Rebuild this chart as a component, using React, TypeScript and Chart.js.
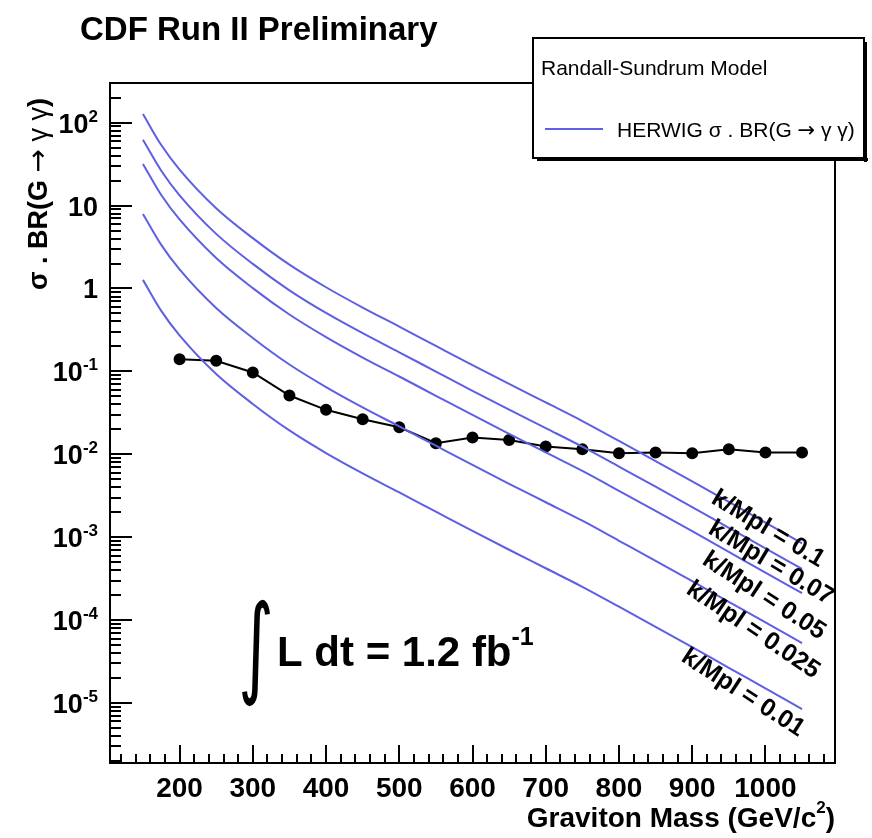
import React, { useEffect, useRef } from "react";
import { Chart, registerables } from "chart.js";

Chart.register(...registerables);

// ---------- data ----------
const masses = [150, 175, 200, 250, 300, 350, 400, 450, 500, 550, 600, 650, 700, 750, 800, 850, 900, 950, 1000, 1050];

const sigmaK010 = [127, 53.7, 27.2, 9.3, 4.05, 1.94, 1.035, 0.589, 0.347, 0.203, 0.119, 0.0706, 0.0422, 0.0252, 0.0145, 0.0083, 0.00472, 0.00266, 0.0015, 0.000845];
const sigmaK007 = [62.2, 26.3, 13.3, 4.56, 1.98, 0.951, 0.507, 0.289, 0.17, 0.0995, 0.0583, 0.0346, 0.0207, 0.01235, 0.0071, 0.00407, 0.00231, 0.0013, 0.000735, 0.000414];
const sigmaK005 = [31.8, 13.4, 6.8, 2.33, 1.01, 0.485, 0.259, 0.147, 0.0868, 0.0508, 0.0298, 0.01765, 0.01055, 0.0063, 0.00363, 0.00208, 0.00118, 0.000665, 0.000375, 0.000211];
const sigmaK0025 = [7.94, 3.36, 1.7, 0.581, 0.253, 0.121, 0.0647, 0.0368, 0.0217, 0.0127, 0.00744, 0.00441, 0.00264, 0.00158, 0.000906, 0.000519, 0.000295, 0.000166, 0.000094, 0.0000528];
const sigmaK001 = [1.27, 0.537, 0.272, 0.093, 0.0405, 0.0194, 0.01035, 0.00589, 0.00347, 0.00203, 0.00119, 0.000706, 0.000422, 0.000252, 0.000145, 0.000083, 0.0000472, 0.0000266, 0.000015, 0.00000845];

const limitMasses = [200, 250, 300, 350, 400, 450, 500, 550, 600, 650, 700, 750, 800, 850, 900, 950, 1000, 1050];
const limitValues = [0.14, 0.134, 0.0969, 0.0512, 0.0344, 0.0265, 0.0212, 0.0136, 0.0159, 0.0149, 0.0124, 0.0115, 0.0103, 0.0105, 0.0103, 0.0115, 0.0105, 0.0105];

const curveLabels = ["k/Mpl = 0.1", "k/Mpl = 0.07", "k/Mpl = 0.05", "k/Mpl = 0.025", "k/Mpl = 0.01"];

const xTickLabels = [200, 300, 400, 500, 600, 700, 800, 900, 1000];
const yTickValues = [100, 10, 1, 0.1, 0.01, 0.001, 0.0001, 0.00001];
const yTickBases = ["10", "10", "1", "10", "10", "10", "10", "10"];
const yTickExps = ["2", "", "", "-1", "-2", "-3", "-4", "-5"];

const titleText = "CDF Run II Preliminary";
const xTitleMain = "Graviton Mass (GeV/c";
const xTitleSup = "2";
const yTitleHead = "σ . BR(G ";
const arrowText = "→";
const gammaText = " γ γ";
const legendHeader = "Randall-Sundrum Model";
const legendEntryHead = "HERWIG σ . BR(G ";
const lumiMain = "L dt = 1.2 fb";
const lumiSup = "-1";

// ---------- styles ----------
const BLUE = "rgb(95,95,228)";
const FONT = "'Liberation Sans', Arial, Helvetica, sans-serif";
const SYM = "'DejaVu Sans', sans-serif";

// label placement (pixel layout, angle in degrees)
const curveLabelLayout = [
  { cx: 768, cy: 529, angle: 31 },
  { cx: 771, cy: 563, angle: 31 },
  { cx: 764, cy: 596, angle: 33 },
  { cx: 753, cy: 630, angle: 34 },
  { cx: 743, cy: 693, angle: 33 },
];

type Part = { text: string; font: string; dy: number };

function drawRich(ctx: CanvasRenderingContext2D, parts: Part[], x: number, y: number, align: "left" | "right" | "center") {
  const widths = parts.map((p) => {
    ctx.font = p.font;
    return ctx.measureText(p.text).width;
  });
  const total = widths.reduce((a, b) => a + b, 0);
  let sx = align === "right" ? x - total : align === "center" ? x - total / 2 : x;
  ctx.textAlign = "left";
  ctx.textBaseline = "alphabetic";
  parts.forEach((p, i) => {
    ctx.font = p.font;
    ctx.fillText(p.text, sx, y + p.dy);
    sx += widths[i];
  });
}

const rootDecor = {
  id: "rootDecor",
  beforeDraw(chart: any) {
    const { ctx, width, height } = chart;
    ctx.save();
    ctx.fillStyle = "#fff";
    ctx.fillRect(0, 0, width, height);
    ctx.restore();
  },
  afterDraw(chart: any) {
    const { ctx, chartArea: a, scales } = chart;
    const xs = scales.x;
    const ys = scales.y;
    ctx.save();
    ctx.fillStyle = "#000";
    ctx.strokeStyle = "#000";

    // frame
    ctx.lineWidth = 2;
    ctx.strokeRect(a.left, a.top, a.right - a.left, a.bottom - a.top);

    // x ticks (inside)
    ctx.beginPath();
    for (let v = 120; v <= xs.max; v += 20) {
      const px = Math.round(xs.getPixelForValue(v));
      const len = v % 100 === 0 ? 18 : 9;
      ctx.moveTo(px, a.bottom);
      ctx.lineTo(px, a.bottom - len);
    }
    // y ticks (inside)
    for (let e = -6; e <= 2; e++) {
      for (let m = 1; m <= 9; m++) {
        const v = m * Math.pow(10, e);
        if (v < ys.min || v > ys.max) continue;
        const py = Math.round(ys.getPixelForValue(v));
        const len = m === 1 ? 22 : 11;
        ctx.moveTo(a.left, py);
        ctx.lineTo(a.left + len, py);
      }
    }
    ctx.stroke();

    // x tick labels
    ctx.font = `bold 28px ${FONT}`;
    ctx.textAlign = "center";
    ctx.textBaseline = "alphabetic";
    xTickLabels.forEach((v) => {
      ctx.fillText(String(v), xs.getPixelForValue(v), a.bottom + 34);
    });

    // y tick labels
    yTickValues.forEach((v, i) => {
      const py = ys.getPixelForValue(v);
      const parts: Part[] = [{ text: yTickBases[i], font: `bold 27px ${FONT}`, dy: 0 }];
      if (yTickExps[i]) parts.push({ text: yTickExps[i], font: `bold 17px ${FONT}`, dy: -11 });
      drawRich(ctx, parts, a.left - 12, py + 10, "right");
    });

    // x title
    drawRich(
      ctx,
      [
        { text: xTitleMain, font: `bold 28px ${FONT}`, dy: 0 },
        { text: xTitleSup, font: `bold 17px ${FONT}`, dy: -14 },
        { text: ")", font: `bold 28px ${FONT}`, dy: 0 },
      ],
      a.right,
      a.bottom + 64,
      "right"
    );

    // y title
    ctx.save();
    ctx.translate(37, 194);
    ctx.rotate(-Math.PI / 2);
    drawRich(
      ctx,
      [
        { text: yTitleHead, font: `bold 27px ${FONT}`, dy: 0 },
        { text: arrowText, font: `28px ${SYM}`, dy: 0 },
        { text: gammaText, font: `27px ${FONT}`, dy: 0 },
        { text: ")", font: `bold 27px ${FONT}`, dy: 0 },
      ],
      0,
      10,
      "center"
    );
    ctx.restore();

    // title
    ctx.fillStyle = "#000";
    ctx.font = `bold 33px ${FONT}`;
    ctx.textAlign = "left";
    ctx.textBaseline = "middle";
    ctx.fillText(titleText, 80, 31);

    // curve labels
    curveLabels.forEach((t, i) => {
      const L = curveLabelLayout[i];
      ctx.save();
      ctx.translate(L.cx, L.cy);
      ctx.rotate((L.angle * Math.PI) / 180);
      ctx.font = `bold 25px ${FONT}`;
      ctx.textAlign = "center";
      ctx.textBaseline = "middle";
      ctx.fillText(t, 0, 0);
      ctx.restore();
    });

    // luminosity
    ctx.save();
    ctx.translate(256, 683);
    ctx.scale(0.62, 1);
    ctx.font = `110px ${SYM}`;
    ctx.textAlign = "center";
    ctx.textBaseline = "alphabetic";
    ctx.fillText("∫", 0, 0);
    ctx.restore();
    drawRich(
      ctx,
      [
        { text: lumiMain, font: `bold 42px ${FONT}`, dy: 0 },
        { text: lumiSup, font: `bold 25px ${FONT}`, dy: -21 },
      ],
      277,
      666,
      "left"
    );

    // legend box with shadow
    const lx = 533, ly = 38, lw = 331, lh = 120;
    ctx.fillStyle = "#000";
    ctx.fillRect(lx + 4, ly + lh, lw, 3);
    ctx.fillRect(lx + lw, ly + 4, 3, lh);
    ctx.fillStyle = "#fff";
    ctx.fillRect(lx, ly, lw, lh);
    ctx.strokeStyle = "#000";
    ctx.lineWidth = 2;
    ctx.strokeRect(lx, ly, lw, lh);
    ctx.fillStyle = "#000";
    ctx.font = `21px ${FONT}`;
    ctx.textAlign = "left";
    ctx.textBaseline = "middle";
    ctx.fillText(legendHeader, 541, 69);
    ctx.strokeStyle = BLUE;
    ctx.lineWidth = 2;
    ctx.beginPath();
    ctx.moveTo(545, 129);
    ctx.lineTo(603, 129);
    ctx.stroke();
    drawRich(
      ctx,
      [
        { text: legendEntryHead, font: `21px ${FONT}`, dy: 0 },
        { text: arrowText, font: `21px ${SYM}`, dy: 0 },
        { text: gammaText + ")", font: `21px ${FONT}`, dy: 0 },
      ],
      617,
      137,
      "left"
    );

    ctx.restore();
  },
};

export default function App() {
  const ref = useRef<HTMLCanvasElement | null>(null);
  useEffect(() => {
    if (!ref.current) return;
    const curves = [sigmaK010, sigmaK007, sigmaK005, sigmaK0025, sigmaK001];
    const datasets: any[] = curves.map((arr, k) => ({
      label: curveLabels[k],
      data: masses.map((m, i) => ({ x: m, y: arr[i] })),
      borderColor: BLUE,
      borderWidth: 2,
      pointRadius: 0,
      fill: false,
      cubicInterpolationMode: "monotone",
    }));
    datasets.push({
      label: "limit",
      data: limitMasses.map((m, i) => ({ x: m, y: limitValues[i] })),
      borderColor: "#000",
      backgroundColor: "#000",
      borderWidth: 2,
      pointRadius: 5,
      pointBackgroundColor: "#000",
      pointBorderColor: "#000",
      tension: 0,
      fill: false,
    });
    const chart = new Chart(ref.current, {
      type: "line",
      data: { datasets },
      plugins: [rootDecor],
      options: {
        animation: false,
        responsive: false,
        devicePixelRatio: 1,
        layout: { padding: { left: 110, top: 83, right: 37, bottom: 75 } },
        plugins: { legend: { display: false }, tooltip: { enabled: false } },
        scales: {
          x: { type: "linear", min: 105, max: 1095, display: false },
          y: { type: "logarithmic", min: 1.89e-6, max: 301, display: false },
        },
      },
    } as any);
    return () => chart.destroy();
  }, []);
  return (
    <canvas
      ref={ref}
      width={872}
      height={838}
      style={{ position: "absolute", left: 0, top: 0, display: "block" }}
    />
  );
}
